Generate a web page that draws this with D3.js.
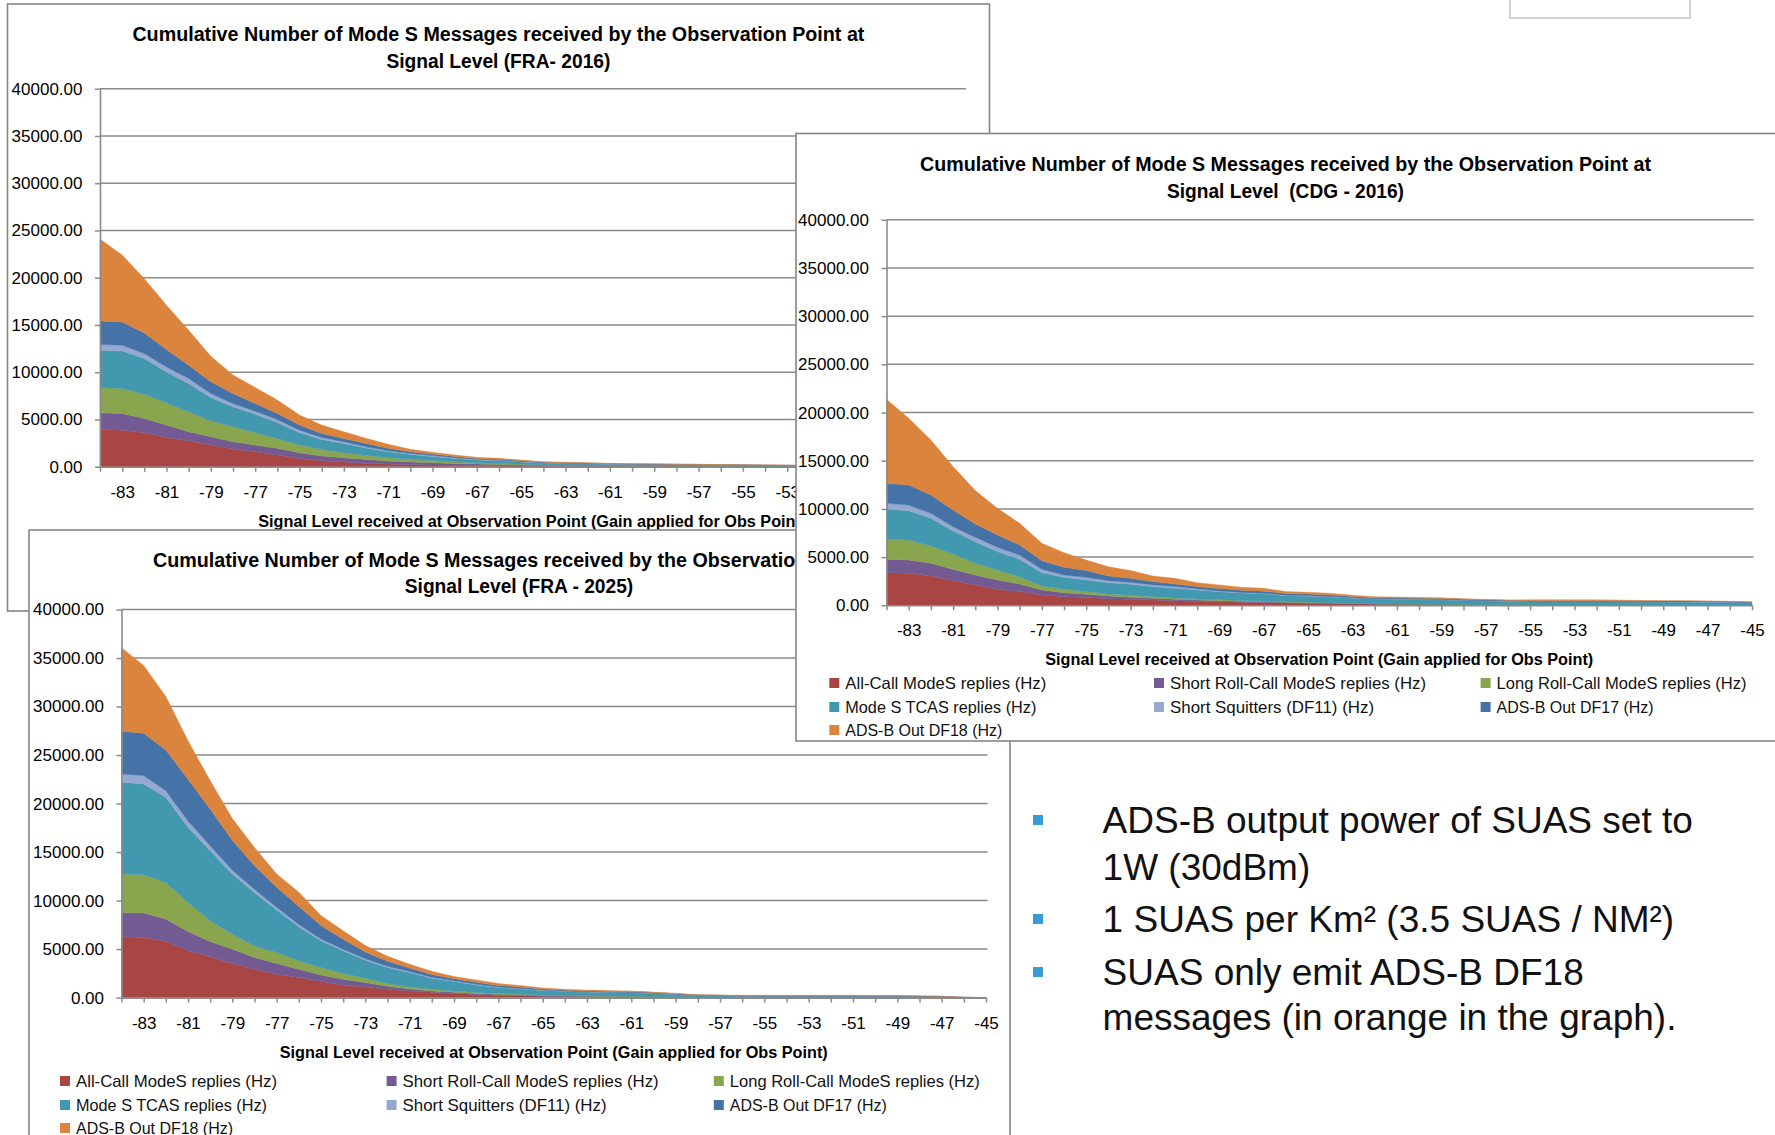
<!DOCTYPE html>
<html><head><meta charset="utf-8">
<script src="https://cdn.jsdelivr.net/npm/d3@7"></script>
<style>
html,body{margin:0;padding:0;background:#fff;overflow:hidden;}
svg{display:block;}
text{font-family:'Liberation Sans', Arial, sans-serif;}
</style></head><body>
<svg id="c" width="1775" height="1135"></svg>
<script>
// ---------- data ----------
const categories = [-84,-83,-82,-81,-80,-79,-78,-77,-76,-75,-74,-73,-72,-71,-70,-69,-68,-67,-66,-65,-64,-63,-62,-61,-60,-59,-58,-57,-56,-55,-54,-53,-52,-51,-50,-49,-48,-47,-46,-45];
const xTickLabels = [-83,-81,-79,-77,-75,-73,-71,-69,-67,-65,-63,-61,-59,-57,-55,-53,-51,-49,-47,-45];
const yTickValues = [0,5000,10000,15000,20000,25000,30000,35000,40000];
const seriesNames = ["All-Call ModeS replies (Hz)","Short Roll-Call ModeS replies (Hz)","Long Roll-Call ModeS replies (Hz)","Mode S TCAS replies (Hz)","Short Squitters (DF11) (Hz)","ADS-B Out DF17 (Hz)","ADS-B Out DF18 (Hz)"];
const seriesColors = ["#A94542","#735A92","#89A54E","#4198AF","#93A9CF","#4572A7","#DB843D"];

// FRA 2016
const fra16AllCall   = [3940,3870,3590,3100,2750,2290,1870,1580,1230,880,630,490,350,280,210,180,150,130,110,90,70,60,50,40,35,30,28,25,22,20,18,16,14,12,10,9,8,7,6,5];
const fra16ShortRoll = [1760,1760,1510,1300,950,880,770,710,710,600,500,460,420,320,280,240,190,150,120,90,60,50,40,30,25,20,18,15,12,10,9,8,7,6,5,5,4,4,3,3];
const fra16LongRoll  = [2680,2640,2570,2360,2110,1690,1580,1300,1050,810,700,530,430,350,280,230,180,130,110,80,60,50,45,40,35,30,28,25,22,20,18,16,14,12,10,9,8,7,6,5];
const fra16Tcas      = [3940,3980,3770,3270,2990,2460,2120,1970,1690,1300,1060,980,770,630,530,430,360,310,300,250,200,180,170,150,140,135,130,120,108,100,90,80,70,60,57,52,47,42,37,32];
const fra16Squitter  = [600,600,530,530,530,420,350,320,320,280,210,180,140,110,110,100,80,60,50,40,30,25,22,20,18,17,16,15,13,12,11,10,9,8,7,7,6,5,5,4];
const fra16Df17      = [2500,2460,2180,1830,1410,1240,1050,810,630,530,420,350,350,250,170,160,130,100,100,80,60,55,55,45,45,45,42,38,35,32,30,27,24,21,20,18,17,15,13,11];
const fra16Df18      = [8680,7090,5750,4700,3710,2720,1960,1700,1420,1060,880,710,540,430,260,180,150,110,100,80,50,40,38,25,22,23,18,12,8,6,4,3,2,1,1,0,0,0,0,0];

// CDG 2016
const cdg16AllCall   = [3390,3320,3040,2560,2110,1660,1420,1070,900,800,690,620,550,480,410,360,320,280,240,210,180,150,120,100,90,80,70,60,55,50,45,40,38,35,32,30,28,25,22,20];
const cdg16ShortRoll = [1380,1380,1320,1170,1040,970,790,520,410,340,280,210,180,140,140,120,100,90,70,60,50,40,30,25,22,20,18,15,13,12,11,10,9,8,7,6,6,5,5,4];
const cdg16LongRoll  = [2080,2080,1800,1600,1210,1040,760,420,350,280,210,210,170,140,110,90,80,70,60,50,40,30,25,20,18,16,14,12,10,9,8,8,7,6,6,5,5,4,4,3];
const cdg16Tcas      = [3110,3040,2870,2380,2240,1900,1800,1380,1240,1210,1170,1140,1040,1000,930,840,780,750,620,620,600,520,470,470,470,450,400,370,340,320,320,330,330,330,310,300,300,290,270,220];
const cdg16Squitter  = [620,590,510,450,450,450,450,340,250,270,210,210,170,180,120,70,60,60,50,50,40,35,30,30,28,26,22,20,18,16,16,16,16,15,14,14,14,13,12,10];
const cdg16Df17      = [2080,2070,1910,1730,1390,1280,1040,900,790,700,480,410,350,270,230,260,230,220,180,170,160,140,120,110,110,110,100,90,80,75,80,80,80,80,80,80,82,80,77,73];
const cdg16Df18      = [8710,6920,5700,4500,3460,2760,2250,1800,1520,1100,970,800,580,590,410,370,300,290,200,190,170,125,105,95,82,78,56,48,44,98,100,96,90,76,51,45,45,33,20,10];

// FRA 2025
const fra25AllCall   = [6260,6190,5780,4820,4200,3510,2920,2410,2060,1650,1270,1100,860,690,550,410,310,240,190,150,120,100,80,70,55,40,25,20,18,16,15,14,13,12,10,9,8,6,2,0];
const fra25ShortRoll = [2510,2520,2310,1990,1580,1480,1210,1100,860,690,620,450,310,200,140,140,100,80,70,55,45,40,35,30,25,18,12,10,9,8,7,7,6,6,5,5,4,3,1,0];
const fra25LongRoll  = [3960,3950,3780,3000,2130,1550,1200,1140,870,760,590,450,280,210,170,140,110,90,75,60,50,45,40,35,30,22,15,13,12,11,10,9,8,8,7,6,5,4,1,0];
const fra25Tcas      = [9460,9360,8780,7740,7230,6190,5510,4370,3500,2750,2340,1850,1650,1480,1140,960,790,620,560,470,410,390,370,360,310,240,170,150,110,105,105,105,110,115,110,115,100,80,18,0];
const fra25Squitter  = [860,860,680,650,520,400,340,290,240,190,170,150,130,110,90,80,70,60,50,40,35,30,28,25,20,15,10,9,8,8,8,8,8,8,7,7,6,5,1,0];
const fra25Df17      = [4410,4370,4200,4300,3780,3090,2410,2070,1860,1380,1030,690,520,350,280,210,200,170,150,120,100,90,85,90,80,60,40,35,28,27,25,25,30,35,40,45,40,35,7,0];
const fra25Df18      = [8600,6990,5510,3960,2930,2240,1890,1370,1480,1030,860,690,510,410,340,240,240,190,155,105,90,85,82,70,55,45,28,33,55,65,70,72,65,56,21,13,7,2,0,0];

const bulletLines = [
  {text:"ADS-B output power of SUAS set to", bullet:true},
  {text:"1W (30dBm)", bullet:false},
  {text:"1 SUAS per Km\u00B2 (3.5 SUAS / NM\u00B2)", bullet:true},
  {text:"SUAS only emit ADS-B DF18", bullet:true},
  {text:"messages (in orange in the graph).", bullet:false}
];

// ---------- layout ----------
const titleLine1 = "Cumulative Number of Mode S Messages received by the Observation Point at";
const xTitle = "Signal Level received at Observation Point (Gain applied for Obs Point)";
const legendWidths = [201,256,250,191,204,157,157];

const charts = [
  { sub:"Signal Level (FRA- 2016)", series:[fra16AllCall,fra16ShortRoll,fra16LongRoll,fra16Tcas,fra16Squitter,fra16Df17,fra16Df18],
    box:[7.5,4,982,607], x0:100, x1:964.6, yb:466.7, yt:88.7, tx:498.4, ty:[41.3,68.2], tw:[732,224],
    xtY:526.5, legRows:null, legCols:null },
  { sub:"Signal Level (FRA - 2025)", series:[fra25AllCall,fra25ShortRoll,fra25LongRoll,fra25Tcas,fra25Squitter,fra25Df17,fra25Df18],
    box:[29,530,981,640], x0:121.5, x1:986, yb:997.6, yt:609.5, tx:519, ty:[566.6,593], tw:[732,228.5],
    xtY:1057.5, legRows:[1081,1105,1128], legCols:[76,402.6,729.8] },
  { sub:"Signal Level  (CDG - 2016)", series:[cdg16AllCall,cdg16ShortRoll,cdg16LongRoll,cdg16Tcas,cdg16Squitter,cdg16Df17,cdg16Df18],
    box:[796,133.5,990,607.5], x0:886.5, x1:1752, yb:605.3, yt:219.8, tx:1285.5, ty:[170.7,198], tw:[731,237],
    xtY:665, legRows:[683,707,730], legCols:[845.3,1170,1496.6] }
];

const svg = d3.select("#c");
const GRID = "#8a8a8a";

function drawChart(cfg){
  const g = svg.append("g");
  const [bx,by,bw,bh] = cfg.box;
  g.append("rect").attr("x",bx).attr("y",by).attr("width",bw).attr("height",bh)
    .attr("fill","#fff").attr("stroke","#858585").attr("stroke-width",1.6);

  const tl = [titleLine1, cfg.sub];
  tl.forEach((t,i)=>{
    g.append("text").attr("x",cfg.tx).attr("y",cfg.ty[i]).attr("text-anchor","middle")
      .attr("font-size",20).attr("font-weight","bold").attr("fill","#000")
      .style("white-space","pre")
      .attr("textLength",cfg.tw[i]).attr("lengthAdjust","spacingAndGlyphs").text(t);
  });

  const x = d3.scalePoint().domain(categories).range([cfg.x0,cfg.x1]).padding(0);
  const y = d3.scaleLinear().domain([0,40000]).range([cfg.yb,cfg.yt]);

  g.append("g").selectAll("line").data(yTickValues.filter(v=>v>0)).join("line")
    .attr("x1",cfg.x0).attr("x2",cfg.x1+1.5).attr("y1",d=>y(d)).attr("y2",d=>y(d))
    .attr("stroke",GRID).attr("stroke-width",1.5);

  const keys = seriesNames.map((n,k)=>"s"+k);
  const rows = categories.map((c,i)=>{ const r={cat:c}; cfg.series.forEach((arr,k)=>{ r["s"+k]=arr[i]; }); return r; });
  const stacked = d3.stack().keys(keys)(rows);
  const area = d3.area().x(d=>x(d.data.cat)).y0(d=>y(d[0])).y1(d=>y(d[1]));
  g.append("g").selectAll("path").data(stacked).join("path")
    .attr("d",area).attr("fill",(d,i)=>seriesColors[i]).attr("stroke",(d,i)=>seriesColors[i]).attr("stroke-width",0.4);

  const yAxis = d3.axisLeft(y).tickValues(yTickValues).tickFormat(d3.format(".2f")).tickSize(5).tickSizeOuter(0).tickPadding(12.5);
  const ya = g.append("g").attr("transform",`translate(${cfg.x0},0)`).call(yAxis);
  ya.select(".domain").attr("stroke",GRID).attr("stroke-width",1.6);
  ya.selectAll(".tick line").attr("stroke",GRID).attr("stroke-width",1.5);
  ya.selectAll(".tick text").attr("font-size",17).attr("fill","#000").attr("font-family","'Liberation Sans', Arial, sans-serif");

  const xAxis = d3.axisBottom(x).tickValues(categories).tickFormat(d=>xTickLabels.includes(d)? String(d) : "").tickSize(5).tickSizeOuter(0).tickPadding(14);
  const xa = g.append("g").attr("transform",`translate(0,${cfg.yb})`).call(xAxis);
  xa.select(".domain").attr("stroke",GRID).attr("stroke-width",1.6);
  xa.selectAll(".tick line").attr("stroke",GRID).attr("stroke-width",1.5);
  xa.selectAll(".tick text").attr("font-size",17).attr("fill","#000").attr("font-family","'Liberation Sans', Arial, sans-serif");

  g.append("text").attr("x",(cfg.x0+cfg.x1)/2).attr("y",cfg.xtY).attr("text-anchor","middle")
    .attr("font-size",16).attr("font-weight","bold").attr("fill","#000")
    .attr("textLength",548).attr("lengthAdjust","spacingAndGlyphs").text(xTitle);

  if(cfg.legRows){
    seriesNames.forEach((name,k)=>{
      const row = Math.floor(k/3), col = k%3;
      const tx = cfg.legCols[col], cy = cfg.legRows[row];
      g.append("rect").attr("x",tx-16).attr("y",cy-5).attr("width",10).attr("height",10).attr("fill",seriesColors[k]);
      g.append("text").attr("x",tx).attr("y",cy+6).attr("font-size",16.5).attr("fill","#111")
        .attr("textLength",legendWidths[k]).attr("lengthAdjust","spacingAndGlyphs").text(name);
    });
  }
}

charts.forEach(drawChart);

svg.append("rect").attr("x",1510).attr("y",-10).attr("width",180).attr("height",28)
  .attr("fill","#fff").attr("stroke","#c4c4c4").attr("stroke-width",1.5);

const baselines = [833,880,932,985,1030];
bulletLines.forEach((l,i)=>{
  if(l.bullet){
    svg.append("rect").attr("x",1033).attr("y",baselines[i]-18).attr("width",10).attr("height",10).attr("fill","#3B9BD7");
  }
  svg.append("text").attr("x",1102.6).attr("y",baselines[i]).attr("font-size",37).attr("fill","#111").text(l.text);
});
</script>
</body></html>
